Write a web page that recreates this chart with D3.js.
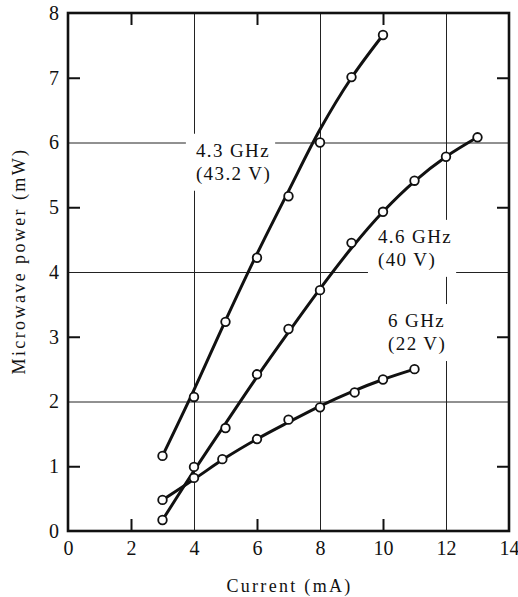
<!DOCTYPE html>
<html>
<head>
<meta charset="utf-8">
<script src="https://cdn.jsdelivr.net/npm/d3@7/dist/d3.min.js"></script>
<style>
  html, body { margin: 0; padding: 0; background: #fff; }
  svg { display: block; }
  text { font-family: "Liberation Serif", "Times New Roman", serif; fill: #111; }
</style>
</head>
<body>
<svg id="chart" width="518" height="597"></svg>
<script>
// ---- data ----
const xTicks = [0, 2, 4, 6, 8, 10, 12, 14];
const yTicks = [0, 1, 2, 3, 4, 5, 6, 7, 8];
const xGrid = [4, 8, 12];
const yGrid = [2, 4, 6];
const xMinor = [2, 6, 10];
const yMinor = [1, 3, 5, 7];

// measured points (open circles)
const current43 = [3, 4, 5, 6, 7, 8, 9, 10];
const power43   = [1.16, 2.07, 3.23, 4.22, 5.17, 6.0, 7.01, 7.66];

const current46 = [3, 4, 5, 6, 7, 8, 9, 10, 11, 12, 13];
const power46   = [0.17, 0.99, 1.59, 2.42, 3.12, 3.72, 4.45, 4.93, 5.41, 5.78, 6.08];

const current6  = [3, 4, 4.9, 6, 7, 8, 9.1, 10, 11];
const power6    = [0.48, 0.82, 1.11, 1.42, 1.72, 1.91, 2.14, 2.34, 2.50];

// hand-drawn smooth curves
const curveX43 = [3, 4, 5, 6, 7, 8, 9, 10];
const curveY43 = [1.16, 2.18, 3.25, 4.28, 5.25, 6.2, 7.0, 7.66];

const curveX46 = [3, 4, 5, 6, 7, 8, 9, 10, 11, 12, 13];
const curveY46 = [0.17, 0.93, 1.66, 2.38, 3.07, 3.74, 4.37, 4.93, 5.40, 5.78, 6.08];

const curveX6  = [3, 4, 5, 6, 7, 8, 9, 10, 11];
const curveY6  = [0.48, 0.80, 1.13, 1.42, 1.68, 1.93, 2.15, 2.34, 2.50];

const seriesNames = ["4.3 GHz", "4.6 GHz", "6 GHz"];
const seriesVolts = ["(43.2 V)", "(40 V)", "(22 V)"];

const xTitle = "Current (mA)";
const yTitle = "Microwave power (mW)";

// ---- layout ----
const W = 518, H = 597;
const m = { left: 68, right: 9, top: 13, bottom: 66 };
const pw = W - m.left - m.right;
const ph = H - m.top - m.bottom;

const x = d3.scaleLinear().domain([0, 14]).range([0, pw]);
const y = d3.scaleLinear().domain([0, 8]).range([ph, 0]);

const svg = d3.select("#chart");
const g = svg.append("g").attr("transform", `translate(${m.left},${m.top})`);

// gridlines
const gx = g.append("g").attr("transform", `translate(0,${ph})`)
  .call(d3.axisBottom(x).tickValues(xGrid).tickSize(-ph).tickFormat(""));
gx.select(".domain").remove();
gx.selectAll("line").attr("stroke", "#222").attr("stroke-width", 1);

const gy = g.append("g")
  .call(d3.axisLeft(y).tickValues(yGrid).tickSize(-pw).tickFormat(""));
gy.select(".domain").remove();
gy.selectAll("line").attr("stroke", "#222").attr("stroke-width", 1);

// minor inward ticks
function styleTicks(sel) {
  sel.select(".domain").remove();
  sel.selectAll("line").attr("stroke", "#111").attr("stroke-width", 2);
}
g.append("g").attr("transform", `translate(0,${ph})`)
  .call(d3.axisBottom(x).tickValues(xMinor).tickSize(-12).tickFormat("")).call(styleTicks);
g.append("g")
  .call(d3.axisTop(x).tickValues(xMinor).tickSize(-12).tickFormat("")).call(styleTicks);
g.append("g")
  .call(d3.axisLeft(y).tickValues(yMinor).tickSize(-12).tickFormat("")).call(styleTicks);
g.append("g").attr("transform", `translate(${pw},0)`)
  .call(d3.axisRight(y).tickValues(yMinor).tickSize(-12).tickFormat("")).call(styleTicks);

// tick labels
const xl = g.append("g").attr("transform", `translate(0,${ph})`)
  .call(d3.axisBottom(x).tickValues(xTicks).tickSize(0).tickPadding(10).tickFormat(d3.format("d")));
xl.select(".domain").remove();
xl.selectAll("text").attr("font-size", 20).attr("font-family", null).attr("fill", "#111");

const yl = g.append("g")
  .call(d3.axisLeft(y).tickValues(yTicks).tickSize(0).tickPadding(9).tickFormat(d3.format("d")));
yl.select(".domain").remove();
yl.selectAll("text").attr("font-size", 20).attr("font-family", null).attr("fill", "#111");

// series labels with white backing boxes
const labelPos = [[4.06, 5.78], [9.84, 4.45], [10.16, 3.15]];
seriesNames.forEach((name, i) => {
  const lg = g.append("g");
  const bx = lg.append("rect").attr("fill", "#fff");
  const t = lg.append("text")
    .attr("x", x(labelPos[i][0])).attr("y", y(labelPos[i][1]))
    .attr("font-size", 19).attr("letter-spacing", 1.4);
  t.append("tspan").attr("x", x(labelPos[i][0])).text(name);
  t.append("tspan").attr("x", x(labelPos[i][0])).attr("dy", 23).text(seriesVolts[i]);
  const bb = t.node().getBBox();
  bx.attr("x", bb.x - 10).attr("y", bb.y - 6).attr("width", bb.width + 14).attr("height", bb.height + 12);
});

// frame
g.append("rect").attr("x", 0).attr("y", 0).attr("width", pw).attr("height", ph)
  .attr("fill", "none").attr("stroke", "#111").attr("stroke-width", 2.6);

// series curves + markers
const curves = [
  curveX43.map((c, i) => [c, curveY43[i]]),
  curveX46.map((c, i) => [c, curveY46[i]]),
  curveX6.map((c, i) => [c, curveY6[i]])
];
const points = [
  current43.map((c, i) => [c, power43[i]]),
  current46.map((c, i) => [c, power46[i]]),
  current6.map((c, i) => [c, power6[i]])
];
const line = d3.line().x(d => x(d[0])).y(d => y(d[1])).curve(d3.curveCatmullRom.alpha(0.5));
curves.forEach(s => {
  g.append("path").datum(s).attr("d", line)
    .attr("fill", "none").attr("stroke", "#111").attr("stroke-width", 3)
    .attr("stroke-linejoin", "round").attr("stroke-linecap", "round");
});
points.forEach(s => {
  g.append("g").selectAll("circle").data(s).join("circle")
    .attr("cx", d => x(d[0])).attr("cy", d => y(d[1])).attr("r", 4.3)
    .attr("fill", "#fff").attr("stroke", "#111").attr("stroke-width", 1.8);
});

// axis titles
svg.append("text")
  .attr("x", m.left + pw / 2 + 1).attr("y", 592)
  .attr("text-anchor", "middle").attr("font-size", 18).attr("letter-spacing", 2.3)
  .text(xTitle);
svg.append("text")
  .attr("transform", `translate(25,${261}) rotate(-90)`)
  .attr("text-anchor", "middle").attr("font-size", 18).attr("letter-spacing", 2.4)
  .text(yTitle);
</script>
</body>
</html>
